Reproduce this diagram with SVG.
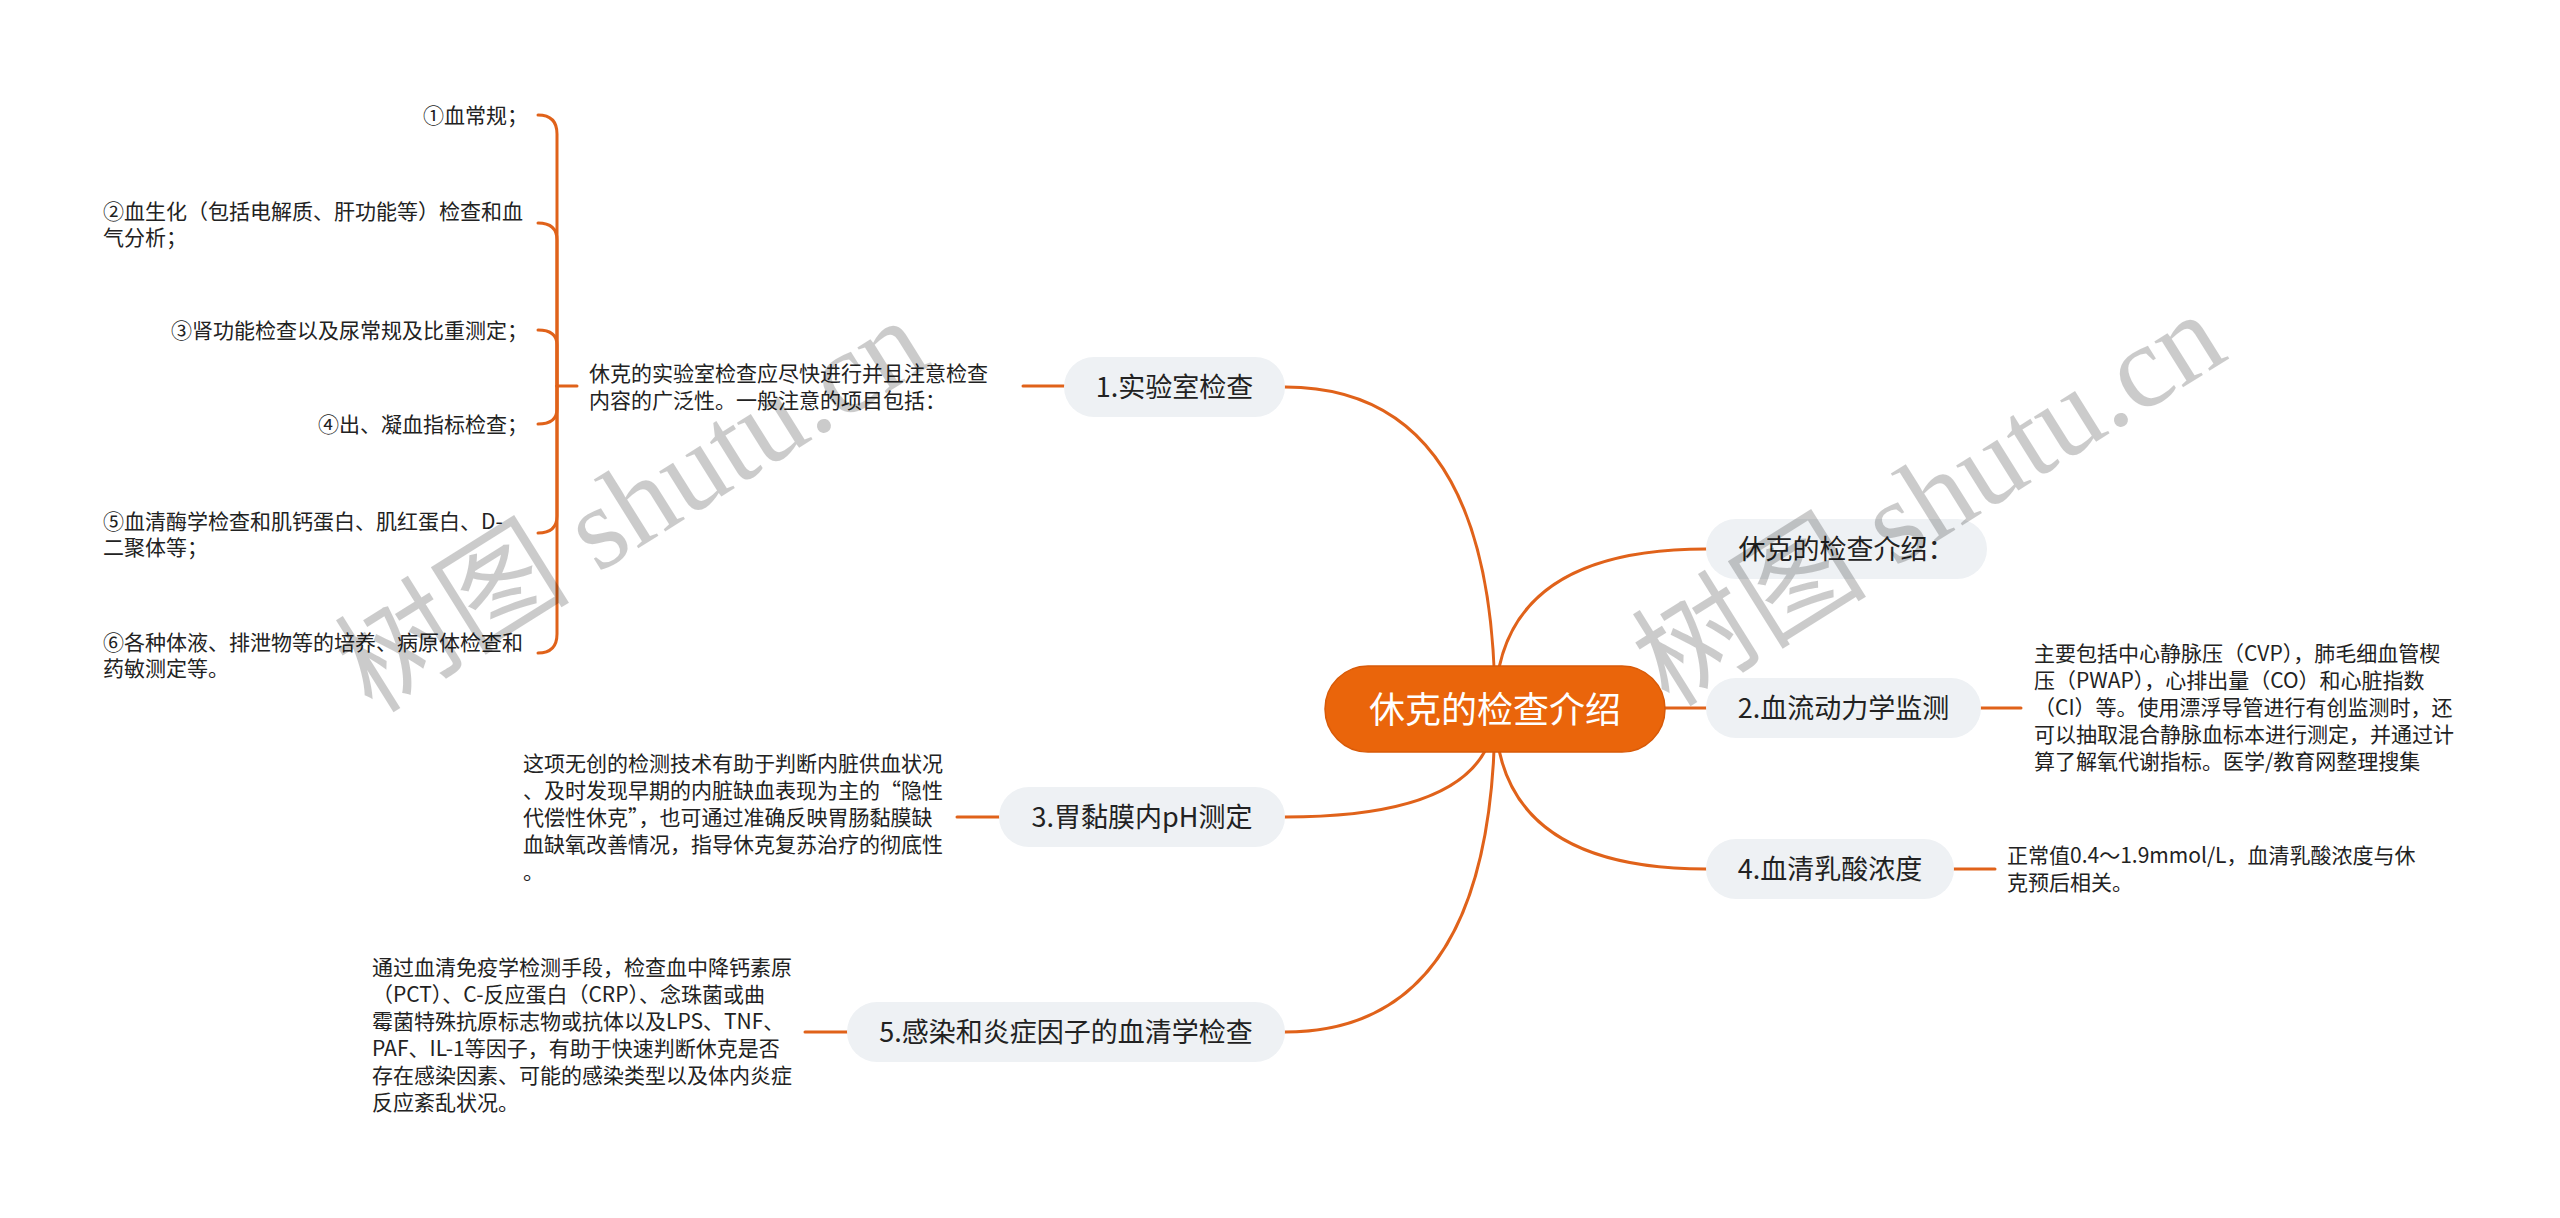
<svg xmlns="http://www.w3.org/2000/svg" width="2560" height="1218" viewBox="0 0 2560 1218">
<style>
.link{fill:none;stroke:#E0621A;stroke-width:3;stroke-linecap:round}
.topic{fill:#EEF1F4}
.tt{font-family:"Noto Sans CJK SC","Noto Sans",sans-serif;font-size:27px;fill:#222;text-anchor:middle}
.p{font-family:"Noto Sans CJK SC","Noto Sans",sans-serif;font-size:21px;fill:#222}
.r{text-anchor:end}
.wm{font-family:"Liberation Serif","Noto Sans CJK SC",serif;font-size:118px;fill:#000;opacity:0.2;text-anchor:middle}
</style>
<rect width="2560" height="1218" fill="#fff"/>
<g id="connectors">
<path class="link" d="M1495,709 Q1495,387 1285,387"/>
<path class="link" d="M1495,709 Q1495,549 1706,549"/>
<path class="link" d="M1495,708 L1706,708"/>
<path class="link" d="M1495,709 Q1495,817 1285,817"/>
<path class="link" d="M1495,709 Q1495,869 1706,869"/>
<path class="link" d="M1495,709 Q1495,1032 1285,1032"/>
<path class="link" d="M1023,386 L1064,386"/>
<path class="link" d="M1981,708 L2021,708"/>
<path class="link" d="M1954,869 L1995,869"/>
<path class="link" d="M957,817 L999,817"/>
<path class="link" d="M805,1032 L847,1032"/>
<path class="link" d="M557,386 L577,386"/>
<path class="link" d="M538,115 Q557,115 557,134 L557,386"/>
<path class="link" d="M538,223 Q557,223 557,240 L557,386"/>
<path class="link" d="M538,330 Q557,330 557,345 L557,386"/>
<path class="link" d="M538,424 Q557,424 557,409 L557,386"/>
<path class="link" d="M538,533 Q557,533 557,516 L557,386"/>
<path class="link" d="M538,653 Q557,653 557,634 L557,386"/>
</g>
<g id="root">
<rect x="1325" y="666" width="340" height="86" rx="43" fill="#EA650B" stroke="#D85A08" stroke-width="1.5"/>
<text x="1495" y="722.5" font-family="'Noto Sans CJK SC','Noto Sans',sans-serif" font-size="36" fill="#fff" text-anchor="middle">休克的检查介绍</text>
</g>
<g id="n1">
<rect class="topic" x="1064" y="357" width="221" height="60" rx="30"/>
<text class="tt" x="1174.5" y="397">1.实验室检查</text>
</g>
<g id="n1-detail">
<text class="p" x="589" y="380.5">休克的实验室检查应尽快进行并且注意检查</text>
<text class="p" x="589" y="407.5">内容的广泛性。一般注意的项目包括：</text>
</g>
<g id="n1-items">
<text class="p r" x="528" y="123">①血常规；</text>
<text class="p" x="103" y="219">②血生化（包括电解质、肝功能等）检查和血</text>
<text class="p" x="103" y="245">气分析；</text>
<text class="p r" x="528" y="338">③肾功能检查以及尿常规及比重测定；</text>
<text class="p r" x="528" y="432">④出、凝血指标检查；</text>
<text class="p" x="103" y="529">⑤血清酶学检查和肌钙蛋白、肌红蛋白、D-</text>
<text class="p" x="103" y="555">二聚体等；</text>
<text class="p" x="103" y="650">⑥各种体液、排泄物等的培养、病原体检查和</text>
<text class="p" x="103" y="676">药敏测定等。</text>
</g>
<g id="n-intro">
<rect class="topic" x="1706" y="519" width="281" height="60" rx="30"/>
<text class="tt" x="1846.5" y="559">休克的检查介绍：</text>
</g>
<g id="n2">
<rect class="topic" x="1706" y="678" width="275" height="60" rx="30"/>
<text class="tt" x="1843.5" y="718">2.血流动力学监测</text>
</g>
<g id="n2-detail">
<text class="p" x="2034" y="661">主要包括中心静脉压（CVP），肺毛细血管楔</text>
<text class="p" x="2034" y="688">压（PWAP），心排出量（CO）和心脏指数</text>
<text class="p" x="2034" y="715">（CI）等。使用漂浮导管进行有创监测时，还</text>
<text class="p" x="2034" y="742">可以抽取混合静脉血标本进行测定，并通过计</text>
<text class="p" x="2034" y="769">算了解氧代谢指标。医学/教育网整理搜集</text>
</g>
<g id="n3">
<rect class="topic" x="999" y="787" width="286" height="60" rx="30"/>
<text class="tt" x="1142" y="827">3.胃黏膜内pH测定</text>
</g>
<g id="n3-detail">
<text class="p" x="523" y="771">这项无创的检测技术有助于判断内脏供血状况</text>
<text class="p" x="523" y="798">、及时发现早期的内脏缺血表现为主的“隐性</text>
<text class="p" x="523" y="825">代偿性休克”，也可通过准确反映胃肠黏膜缺</text>
<text class="p" x="523" y="852">血缺氧改善情况，指导休克复苏治疗的彻底性</text>
<text class="p" x="523" y="879">。</text>
</g>
<g id="n4">
<rect class="topic" x="1706" y="839" width="248" height="60" rx="30"/>
<text class="tt" x="1830" y="879">4.血清乳酸浓度</text>
</g>
<g id="n4-detail">
<text class="p" x="2007" y="863">正常值0.4～1.9mmol/L，血清乳酸浓度与休</text>
<text class="p" x="2007" y="890">克预后相关。</text>
</g>
<g id="n5">
<rect class="topic" x="847" y="1002" width="438" height="60" rx="30"/>
<text class="tt" x="1066" y="1042">5.感染和炎症因子的血清学检查</text>
</g>
<g id="n5-detail">
<text class="p" x="372" y="975">通过血清免疫学检测手段，检查血中降钙素原</text>
<text class="p" x="372" y="1002">（PCT）、C-反应蛋白（CRP）、念珠菌或曲</text>
<text class="p" x="372" y="1029">霉菌特殊抗原标志物或抗体以及LPS、TNF、</text>
<text class="p" x="372" y="1056">PAF、IL-1等因子，有助于快速判断休克是否</text>
<text class="p" x="372" y="1083">存在感染因素、可能的感染类型以及体内炎症</text>
<text class="p" x="372" y="1110">反应紊乱状况。</text>
</g>
<g id="watermarks">
<text class="wm" transform="translate(653,539) rotate(-32)">树图 shutu.cn</text>
<text class="wm" transform="translate(1950,533) rotate(-32)">树图 shutu.cn</text>
</g>
</svg>
